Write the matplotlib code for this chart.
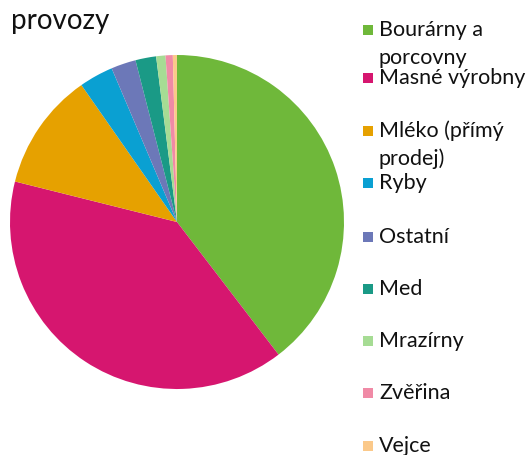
import matplotlib
matplotlib.use("Agg")
import matplotlib.pyplot as plt
from matplotlib.patches import Rectangle

categories = ["Bourárny a\nporcovny", "Masné výrobny", "Mléko (přímý\nprodej)", "Ryby",
              "Ostatní", "Med", "Mrazírny", "Zvěřina", "Vejce"]
values = [39.6, 39.3, 11.4, 3.3, 2.4, 2.0, 0.9, 0.7, 0.4]
colors = ["#6fb83a", "#d6166f", "#e6a100", "#0aa0d2", "#6c78b8", "#1a9a86",
          "#a6dc94", "#f08aa6", "#fbc98a"]
title = "provozy"

W, H = 532, 455
fig = plt.figure(figsize=(W / 100, H / 100), dpi=100)
plt.rcParams['font.family'] = ['Lato', 'DejaVu Sans']

cx, cy, r = 177, 222, 167
ax = fig.add_axes([(cx - r) / W, (H - cy - r) / H, 2 * r / W, 2 * r / H])
ax.pie(values, colors=colors, startangle=90, counterclock=False,
       wedgeprops=dict(linewidth=0))
ax.set_xlim(-1, 1)
ax.set_ylim(-1, 1)
ax.axis("off")

fig.text(11 / W, 1 - 21 / H, title, fontsize=20, va="center", ha="left", color="#111111")

ys = [30, 78, 131, 183, 237, 289, 341, 393, 446]
for lab, col, y in zip(categories, colors, ys):
    fig.patches.append(Rectangle((363 / W, 1 - (y + 5) / H), 10 / W, 10 / H,
                                 transform=fig.transFigure, facecolor=col,
                                 edgecolor="none"))
    lines = lab.split("\n")
    for j, line in enumerate(lines):
        fig.text(379 / W, 1 - (y + j * 28) / H, line, fontsize=15.5,
                 va="center", ha="left", color="#111111")

fig.savefig("out.png", dpi=100)
